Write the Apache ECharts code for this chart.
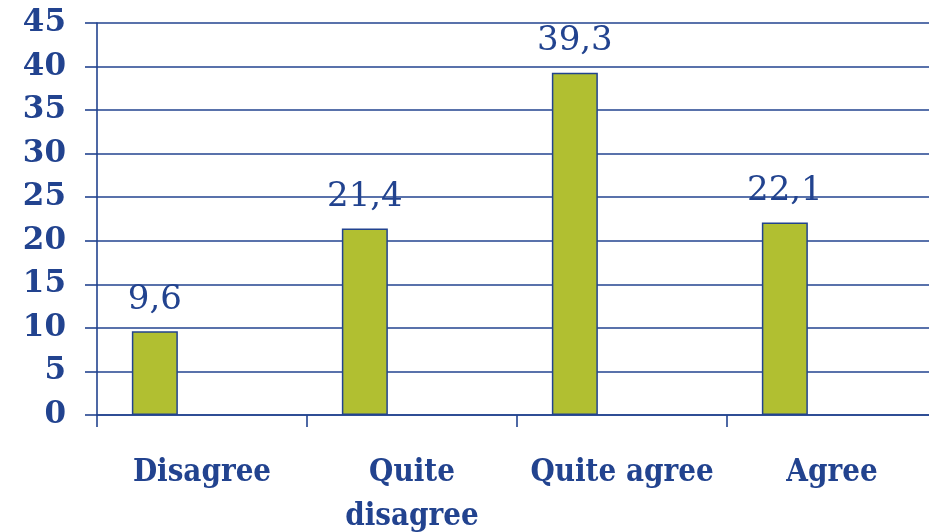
<!DOCTYPE html>
<html>
<head>
<meta charset="utf-8">
<script src="https://cdn.jsdelivr.net/npm/echarts@6/dist/echarts.min.js"></script>
<style>
  html, body { margin: 0; padding: 0; background: #ffffff; }
  #chart { width: 929px; height: 532px; }
</style>
</head>
<body>
<div id="chart"></div>
<script>
// Answer categories and their percentage shares
const categories = ['Disagree', 'Quite\ndisagree', 'Quite agree', 'Agree'];
const shares = [9.6, 21.4, 39.3, 22.1];

// Value axis range
const yMin = 0;
const yMax = 45;
const yStep = 5;

const navy = '#22438f';
const barFill = '#b1bf31';
const serif = 'DejaVu Serif';

const chart = echarts.init(document.getElementById('chart'), null, { renderer: 'canvas' });

chart.setOption({
  backgroundColor: '#ffffff',
  animation: false,
  grid: {
    left: 97,
    right: -8,
    top: 23,
    bottom: 117,
    outerBoundsMode: 'none'
  },
  xAxis: {
    type: 'category',
    data: categories,
    boundaryGap: true,
    axisLine: { show: true, lineStyle: { color: navy, width: 1.6 } },
    axisTick: { show: true, length: 12, alignWithLabel: false, lineStyle: { color: navy, width: 1.6 } },
    axisLabel: {
      interval: 0,
      margin: 36,
      color: navy,
      fontFamily: 'DejaVu Serif Condensed',
      fontWeight: 'bold',
      fontSize: 31,
      lineHeight: 44
    },
    splitLine: { show: false }
  },
  yAxis: {
    type: 'value',
    min: yMin,
    max: yMax,
    interval: yStep,
    axisLine: { show: true, lineStyle: { color: navy, width: 1.6 } },
    axisTick: { show: true, length: 12, lineStyle: { color: navy, width: 1.6 } },
    axisLabel: {
      margin: 31,
      color: navy,
      fontFamily: serif,
      fontWeight: 'bold',
      fontSize: 31
    },
    splitLine: { show: true, lineStyle: { color: navy, width: 1.6 } }
  },
  series: [
    {
      type: 'bar',
      data: shares,
      barWidth: 46,
      barGap: '105%',
      itemStyle: { color: barFill, borderColor: navy, borderWidth: 1.5 },
      label: {
        show: true,
        position: 'top',
        distance: 14,
        color: navy,
        fontFamily: serif,
        fontSize: 34,
        formatter: p => String(p.value).replace('.', ',')
      }
    },
    {
      // empty companion series: keeps each bar on the left half of its slot
      type: 'bar',
      data: shares.map(() => '-'),
      barWidth: 46,
      silent: true
    }
  ]
});
</script>
</body>
</html>
